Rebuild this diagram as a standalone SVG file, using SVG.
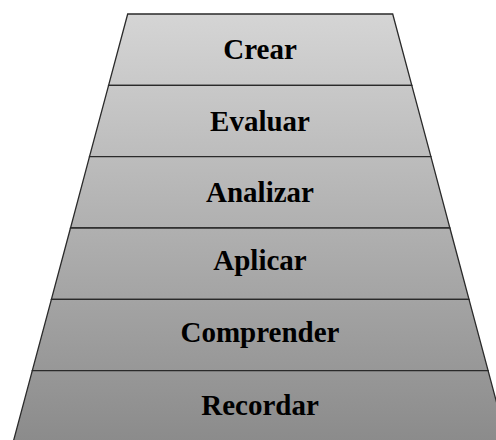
<svg xmlns="http://www.w3.org/2000/svg" width="496" height="440" viewBox="0 0 496 440">
  <defs>
    <linearGradient id="g" gradientUnits="userSpaceOnUse" x1="0" y1="14" x2="0" y2="442">
      <stop offset="0" stop-color="#d5d5d5"/>
      <stop offset="1" stop-color="#8b8b8b"/>
    </linearGradient>
  </defs>
  <style>
    .band { fill: url(#g); stroke: #2a2a2a; stroke-width: 1.3; stroke-linejoin: miter; }
    .lbl { font-family: "Liberation Serif", "Times New Roman", serif; font-weight: bold; font-size: 29px; fill: #000; text-anchor: middle; }
  </style>
  <rect width="496" height="440" fill="#ffffff"/>
  <g id="crear">
    <polygon class="band" points="127.7,14 392.7,14 411.8,85.3 108.6,85.3"/>
    <text class="lbl" x="260" y="59">Crear</text>
  </g>
  <g id="evaluar">
    <polygon class="band" points="108.6,85.3 411.8,85.3 430.9,156.7 89.5,156.7"/>
    <text class="lbl" x="260" y="131">Evaluar</text>
  </g>
  <g id="analizar">
    <polygon class="band" points="89.5,156.7 430.9,156.7 449.9,228 70.5,228"/>
    <text class="lbl" x="260" y="201.5">Analizar</text>
  </g>
  <g id="aplicar">
    <polygon class="band" points="70.5,228 449.9,228 469,299.3 51.4,299.3"/>
    <text class="lbl" x="260" y="270">Aplicar</text>
  </g>
  <g id="comprender">
    <polygon class="band" points="51.4,299.3 469,299.3 488.1,370.7 32.3,370.7"/>
    <text class="lbl" x="260" y="341.5">Comprender</text>
  </g>
  <g id="recordar">
    <polygon class="band" points="32.3,370.7 488.1,370.7 507.2,442 13.2,442"/>
    <text class="lbl" x="260" y="415">Recordar</text>
  </g>
</svg>
